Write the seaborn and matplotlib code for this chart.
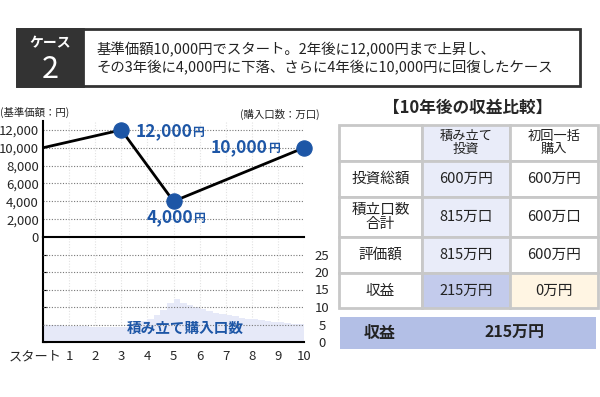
import matplotlib
matplotlib.use("Agg")
import matplotlib.pyplot as plt
import matplotlib.transforms as mtransforms
from matplotlib.patches import Rectangle
import seaborn as sns

# line chart: base price (円)
years = [0, 3, 5, 10]
price = [10000, 12000, 4000, 10000]
price_labels = ["12,000", "4,000", "10,000"]

# bars: units bought per quarter (万口)
quarter_t = [0.125, 0.375, 0.625, 0.875, 1.125, 1.375, 1.625, 1.875, 2.125, 2.375,
             2.625, 2.875, 3.125, 3.375, 3.625, 3.875, 4.125, 4.375, 4.625, 4.875,
             5.125, 5.375, 5.625, 5.875, 6.125, 6.375, 6.625, 6.875, 7.125, 7.375,
             7.625, 7.875, 8.125, 8.375, 8.625, 8.875, 9.125, 9.375, 9.625, 9.875]
units = [5.0, 4.9, 4.8, 4.7, 4.6, 4.6, 4.5, 4.4, 4.4, 4.3,
         4.3, 4.2, 4.4, 4.8, 5.3, 5.9, 6.7, 7.7, 9.1, 11.1,
         12.3, 11.2, 10.5, 9.9, 9.4, 8.9, 8.4, 8.0, 7.6, 7.3,
         7.0, 6.7, 6.5, 6.2, 6.0, 5.8, 5.6, 5.4, 5.2, 5.1]

x_labels = ["スタート"] + [str(i) for i in range(1, 11)]

# table
col_heads = ["", "積み立て\n投資", "初回一括\n購入"]
row_heads = ["投資総額", "積立口数\n合計", "評価額", "収益"]
tsumitate = ["600万円", "815万口", "815万円", "215万円"]
ikkatsu = ["600万円", "600万口", "600万円", "0万円"]
profit = "215万円"

header_lines = ["基準価額10,000円でスタート。2年後に12,000円まで上昇し、",
                "その3年後に4,000円に下落、さらに4年後に10,000円に回復したケース"]

sns.set_style("white")
plt.rcParams["font.family"] = ["Noto Sans CJK JP", "DejaVu Sans"]

blue = "#1d56a6"
dark = "#333333"

fig = plt.figure(figsize=(6, 3.97), dpi=100)

# background layer in pixel coordinates
bg = fig.add_axes([0, 0, 1, 1])
bg.set_xlim(0, 600)
bg.set_ylim(397, 0)
bg.axis("off")

bg.add_patch(Rectangle((17, 29), 563, 57, facecolor="white", edgecolor=dark, lw=2))
bg.add_patch(Rectangle((17, 29), 66, 57, facecolor=dark, edgecolor=dark, lw=2))
bg.text(50, 43, "ケース", color="white", fontsize=10, fontweight="bold", ha="center", va="center")
bg.text(50, 69, "2", color="white", fontsize=22, ha="center", va="center")
bg.text(97, 50, header_lines[0], fontsize=10.4, color="#222222", va="center")
bg.text(97, 68, header_lines[1], fontsize=10.4, color="#222222", va="center")

bg.text(0, 112, "(基準価額：円)", fontsize=7.5, color="#222222", va="center")
bg.text(320, 114, "(購入口数：万口)", fontsize=7.5, color="#222222", va="center", ha="right")

# table
tx = [339, 422, 510, 598]
ty = [125, 161, 197, 237, 273, 308]
light = "#e9ecf9"
fills = {(0, 1): light, (1, 1): light, (2, 1): light, (3, 1): light,
         (4, 1): "#c3cbec", (4, 2): "#fff5e3"}
bg.text(468, 108, "【10年後の収益比較】", fontsize=12, fontweight="bold", ha="center", va="center")
for r in range(5):
    for c in range(3):
        bg.add_patch(Rectangle((tx[c], ty[r]), tx[c + 1] - tx[c], ty[r + 1] - ty[r],
                               facecolor=fills.get((r, c), "white"), edgecolor="#c8c8c8", lw=2))
        if r == 0:
            s = col_heads[c]
        elif c == 0:
            s = row_heads[r - 1]
        elif c == 1:
            s = tsumitate[r - 1]
        else:
            s = ikkatsu[r - 1]
        bg.text((tx[c] + tx[c + 1]) / 2, (ty[r] + ty[r + 1]) / 2, s,
                fontsize=9.5 if r == 0 else 10.5,
                ha="center", va="center", linespacing=1.0, color="#222222")

bg.add_patch(Rectangle((340, 317), 256, 32, facecolor="#b3bfe6", edgecolor="none"))
bg.text(380, 333, "収益", fontsize=11.5, fontweight="bold", ha="center", va="center", color="#222222")
bg.text(515, 333, profit, fontsize=11.5, fontweight="bold", ha="center", va="center", color="#222222")

# upper chart
ax1 = fig.add_axes([43 / 600, 1 - 237 / 397, 261 / 600, 116 / 397])
ax1.set_facecolor("none")
sns.lineplot(x=years, y=price, color="black", lw=2, ax=ax1)
sns.scatterplot(x=years[1:], y=price[1:], s=120, color=blue, edgecolor=blue,
                zorder=5, clip_on=False, ax=ax1)
ax1.set_xlim(0, 10)
ax1.set_ylim(0, 13000)
ax1.set_yticks(range(0, 12001, 2000))
ax1.set_yticklabels([f"{v:,}" for v in range(0, 12001, 2000)], fontsize=9.5)
ax1.set_xticks(range(11))
ax1.set_xticklabels([])
for v in range(2000, 12001, 2000):
    ax1.axhline(v, color="#777777", ls=(0, (1, 1.5)), lw=0.8, zorder=0)
for v in range(1, 11):
    ax1.axvline(v, color="#e2e2e2", ls=(0, (1, 1.5)), lw=0.8, zorder=0)
for s in ["top", "right"]:
    ax1.spines[s].set_visible(False)
for s in ["left", "bottom"]:
    ax1.spines[s].set_color("black")
    ax1.spines[s].set_linewidth(1.5)
ax1.tick_params(axis="x", direction="in", length=5, width=1.2, color="black")
ax1.tick_params(axis="y", length=0, pad=3)
ax1.set_xlabel("")
ax1.set_ylabel("")

label_pos = [(5.72, 11900), (5.75, 2250), (8.62, 10100)]
for (lx, ly), txt in zip(label_pos, price_labels):
    ax1.text(lx, ly, txt, color=blue, fontsize=12.5, ha="right", va="center", fontweight="bold")
    ax1.text(lx, ly - 150, "円", color=blue, fontsize=8.5, ha="left", va="center", fontweight="bold")

# lower chart
ax2 = fig.add_axes([43 / 600, 1 - 342 / 397, 261 / 600, 105 / 397])
ax2.set_facecolor("none")
sns.barplot(x=quarter_t, y=units, native_scale=True, color="#e6e9f8", saturation=1,
            width=1.0, linewidth=0, ax=ax2)
ax2.set_xlim(0, 10)
ax2.set_ylim(0, 30)
ax2.set_yticks(range(0, 26, 5))
ax2.set_yticklabels([str(v) for v in range(0, 26, 5)], fontsize=9.5)
ax2.set_xticks(range(11))
ax2.set_xticklabels(x_labels, fontsize=9.5)
for v in range(5, 26, 5):
    ax2.axhline(v, color="#777777", ls=(0, (1, 1.5)), lw=0.8, zorder=3)
for v in range(1, 11):
    ax2.axvline(v, color="#e2e2e2", ls=(0, (1, 1.5)), lw=0.8, zorder=0)
for s in ["top", "right"]:
    ax2.spines[s].set_visible(False)
for s in ["left", "bottom"]:
    ax2.spines[s].set_color("black")
    ax2.spines[s].set_linewidth(1.5)
ax2.tick_params(axis="x", direction="in", length=5, width=1.2, color="black", pad=6)
ax2.tick_params(axis="y", left=True, right=False, labelleft=False, labelright=True,
                direction="in", length=3, color="black", pad=13)
for lbl in ax2.get_yticklabels():
    lbl.set_horizontalalignment("center")
ax2.set_xlabel("")
ax2.set_ylabel("")
first = ax2.get_xticklabels()[0]
first.set_transform(first.get_transform() + mtransforms.ScaledTranslation(-8 / 100, 0, fig.dpi_scale_trans))
ax2.text(5.44, 4.0, "積み立て購入口数", color=blue, fontsize=10.5, fontweight="bold",
         ha="center", va="center", zorder=4)

fig.savefig("out.png", dpi=100)
